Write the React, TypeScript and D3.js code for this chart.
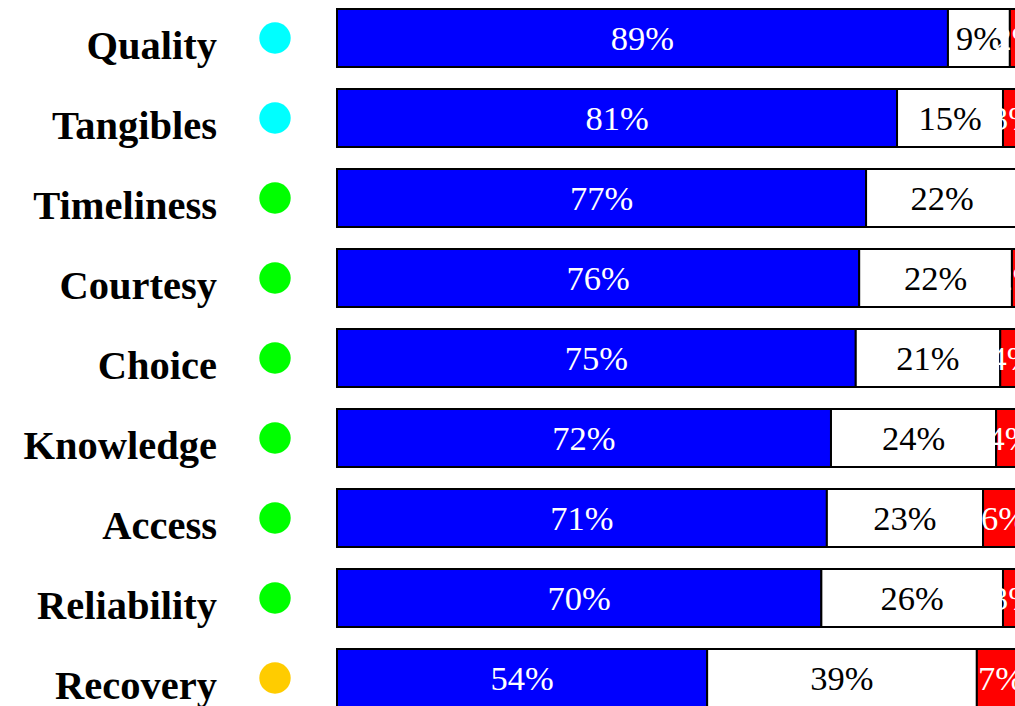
import React from "react";
import * as d3 from "d3";

const categories = ["Quality", "Tangibles", "Timeliness", "Courtesy", "Choice", "Knowledge", "Access", "Reliability", "Recovery"];
const positive = [88.8, 81.4, 76.9, 75.9, 75.4, 71.8, 71.2, 70.4, 53.8];
const neutral = [9.0, 15.4, 22.1, 22.2, 21.0, 24.0, 22.7, 26.4, 39.2];
const negative = [2.2, 3.2, 1.0, 1.9, 3.6, 4.2, 6.1, 3.2, 7.0];
const statusColors = ["#00FFFF", "#00FFFF", "#00FF00", "#00FF00", "#00FF00", "#00FF00", "#00FF00", "#00FF00", "#FFCC00"];

const seriesColors = ["#0000FF", "#FFFFFF", "#FF0000"];
const seriesTextColors = ["#FFFFFF", "#000000", "#FFFFFF"];

const W = 1015;
const H = 706;

export default function App() {
  const x = d3.scaleLinear().domain([0, 100]).range([337, 1025]);
  const y = d3.scaleBand<string>().domain(categories).range([-2, 718]).paddingInner(0.275).paddingOuter(0.1375);
  const series = [positive, neutral, negative];
  const serif = "'Liberation Serif', 'Times New Roman', serif";

  return (
    <svg width={W} height={H} style={{ position: "absolute", left: 0, top: 0, background: "#fff" }} fontFamily={serif}>
      {categories.map((c, i) => {
        const y0 = y(c)!;
        const cy = y0 + y.bandwidth() / 2;
        let acc = 0;
        const segs = series.map((s, k) => {
          const start = acc;
          acc += s[i];
          return { start, end: acc, k, v: s[i] };
        });
        return (
          <g key={c}>
            <text x={217} y={cy + 21} textAnchor="end" fontSize={40.5} fontWeight="bold" fill="#000">{c}</text>
            <circle cx={275} cy={cy} r={15.7} fill={statusColors[i]} />
            {segs.map((sg) => (
              <rect key={"r" + sg.k} x={x(sg.start)} y={y0} width={x(sg.end) - x(sg.start)} height={y.bandwidth()}
                fill={seriesColors[sg.k]} stroke="#000" strokeWidth={2} />
            ))}
            {segs.map((sg) => (
              <text key={"t" + sg.k} x={(x(sg.start) + x(sg.end)) / 2} y={cy + 12} textAnchor="middle" fontSize={34.5}
                fill={seriesTextColors[sg.k]}>{Math.round(sg.v)}%</text>
            ))}
          </g>
        );
      })}
    </svg>
  );
}
